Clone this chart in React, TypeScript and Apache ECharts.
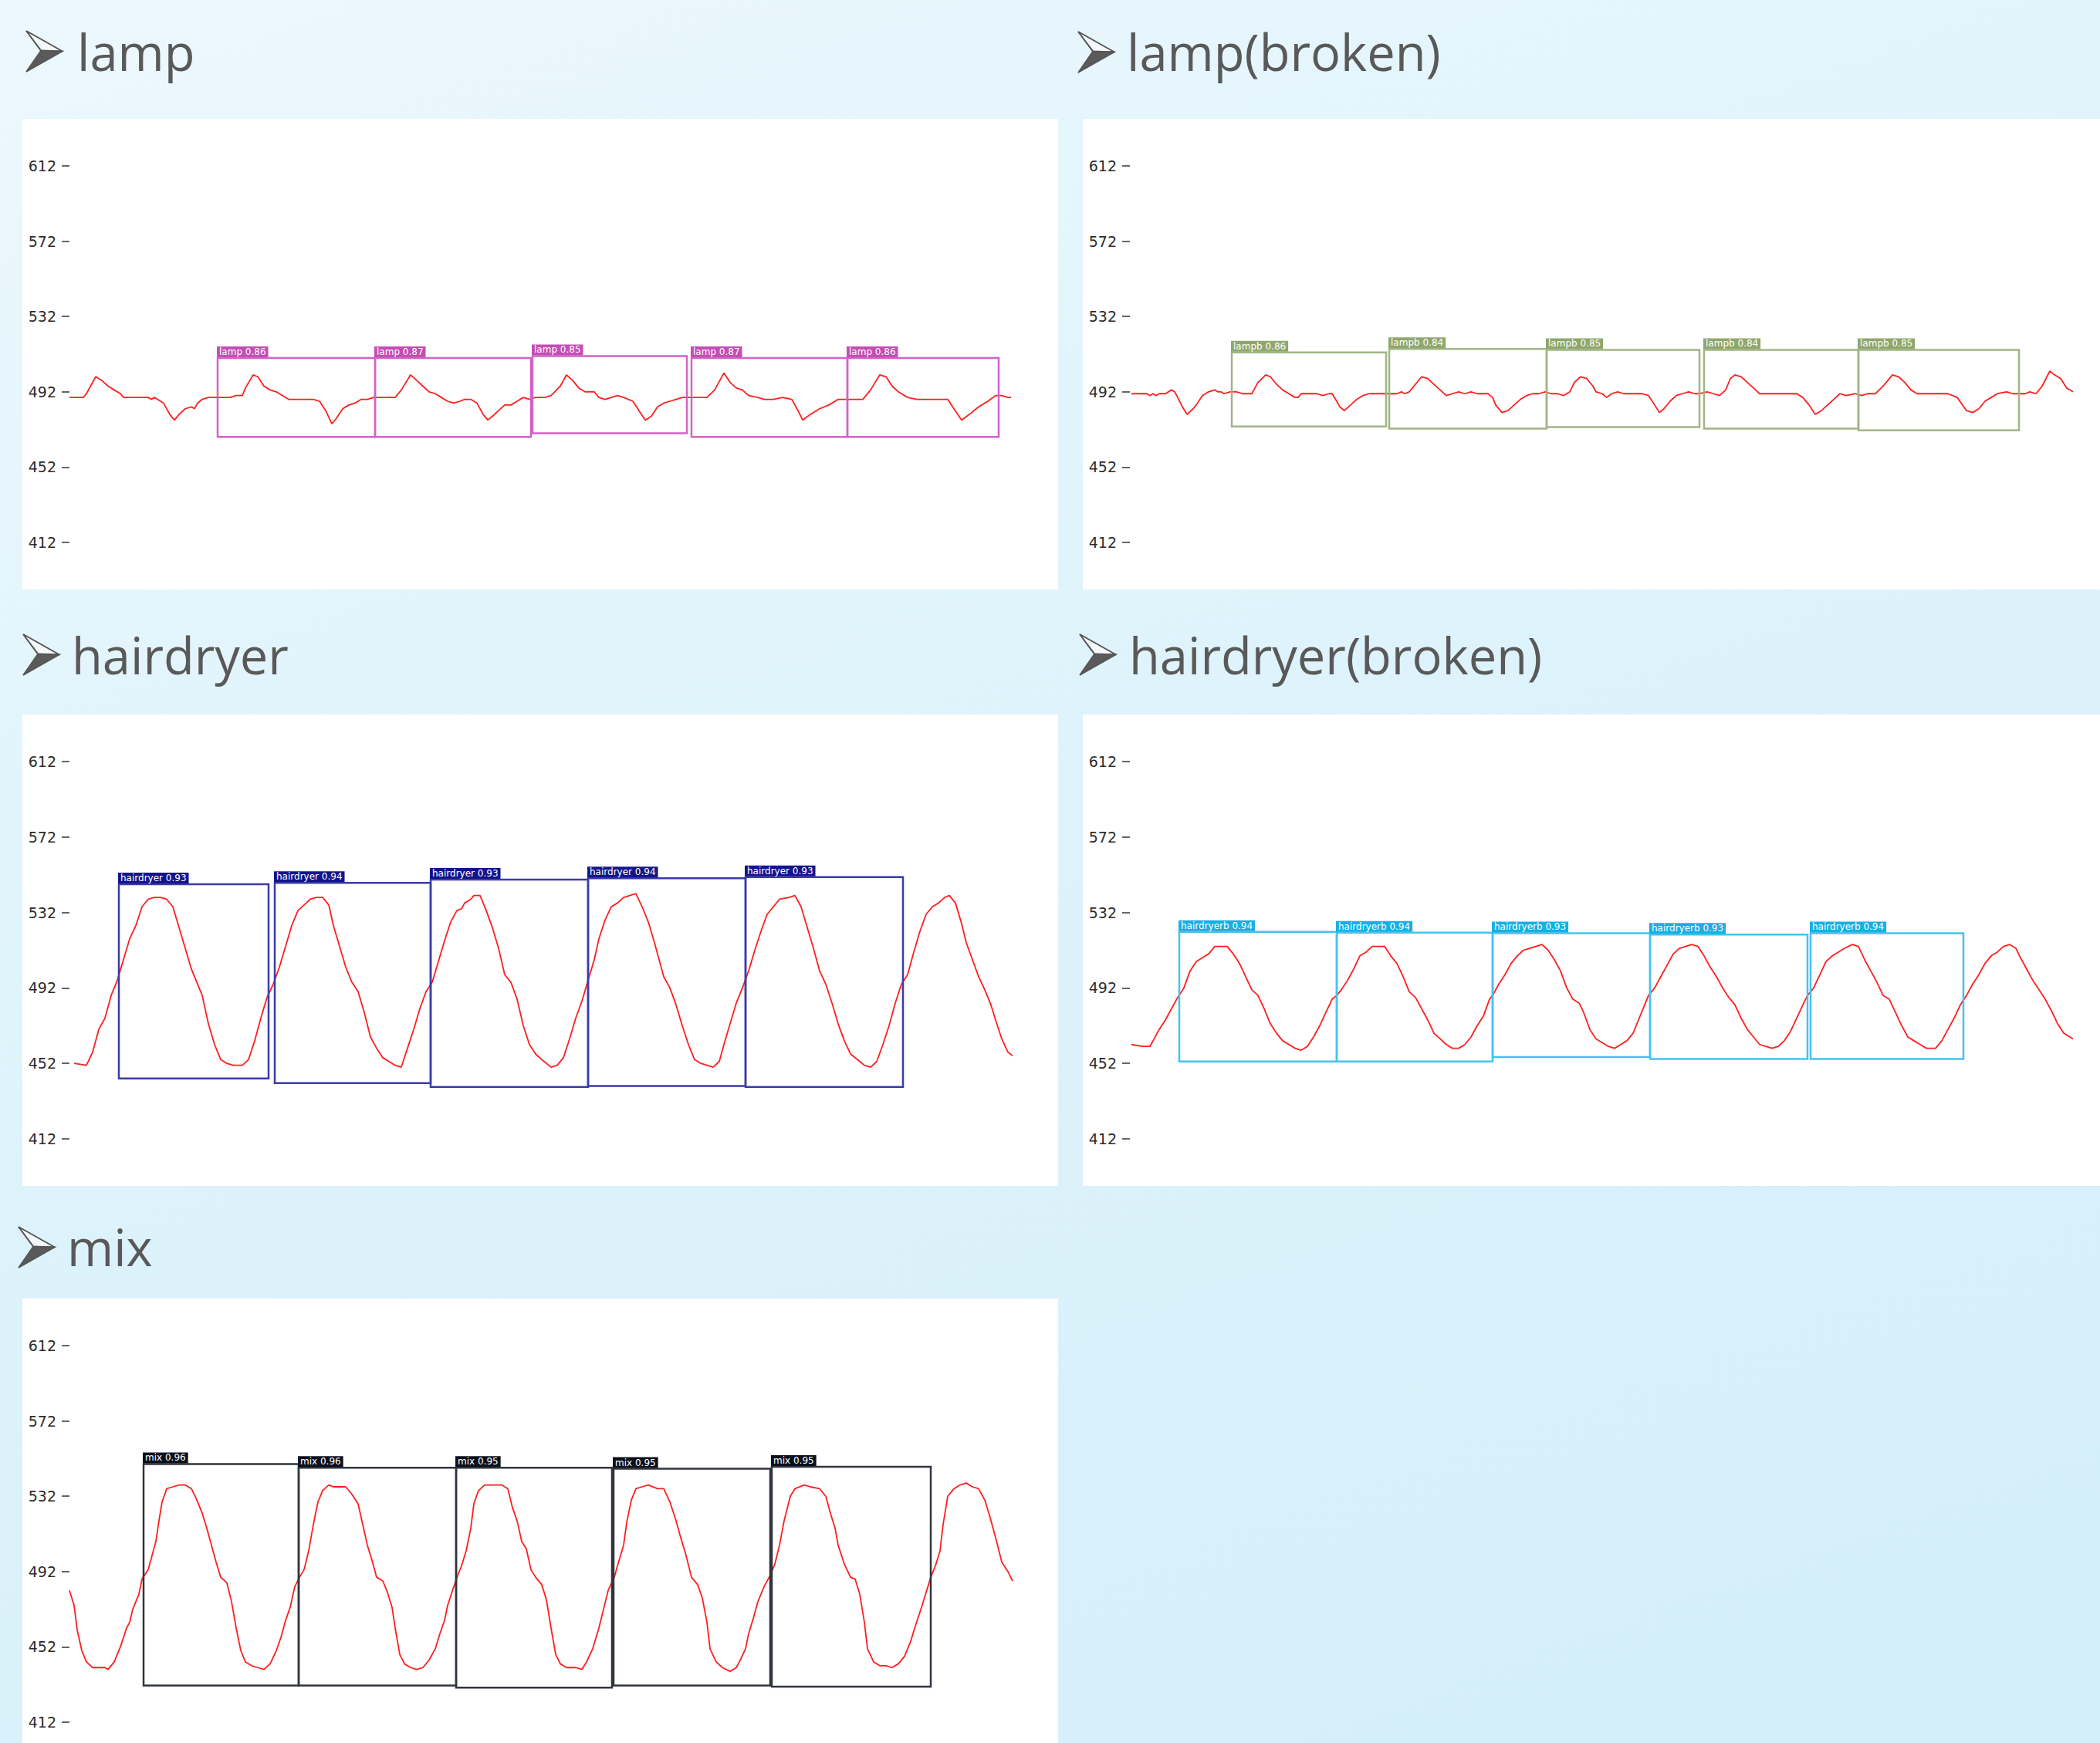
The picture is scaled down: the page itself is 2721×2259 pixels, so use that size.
import React, { useEffect, useRef } from "react";
import * as echarts from "echarts";

// ---------- data ----------
const yTicks = [412, 452, 492, 532, 572, 612];
const sampleMax = 611;

const lampSignal: [number, number][] = [
  [0,489],[9,489],[11,491],[17,500],[21,498],[25,495],[29,493],[33,491],[35,489],[51,489],[53,488],[55,489],[57,488],[61,486],[65,480],[68,477],[71,480],[75,483],[79,484],[81,483],[83,486],[86,488],[90,489],
  [96,489],[104,489],[108,490],[112,490],[114,494],[119,501],[122,500],[126,495],[130,493],[134,492],[138,490],[142,488],[158,488],[162,487],[166,482],[170,475],[173,478],[177,483],[181,485],[185,486],[189,488],[193,488],[197,489],
  [211,489],[215,493],[221,501],[225,498],[229,495],[233,492],[237,491],[241,489],[245,487],[249,486],[253,487],[256,488],[260,488],[264,486],[268,480],[271,477],[274,479],[278,482],[282,485],[286,485],[290,487],[294,489],[298,488],
  [302,489],[308,489],[312,490],[318,495],[322,501],[326,498],[330,494],[334,492],[340,492],[343,489],[347,488],[351,489],[355,490],[359,489],[365,487],[369,482],[373,477],[377,479],[381,484],[385,486],[389,487],[393,488],[397,489],[401,489],
  [413,489],[418,493],[424,502],[428,497],[432,494],[436,493],[440,490],[446,489],[450,488],[456,488],[462,489],[468,488],[472,482],[475,477],[480,480],[486,483],[492,485],[498,488],[504,488],
  [514,488],[519,493],[525,501],[529,500],[533,495],[537,492],[543,489],[549,488],[569,488],[573,483],[578,477],[583,480],[589,484],[595,487],[600,490],[604,490],[608,489],[610,489],
];

const lampBrokenSignal: [number, number][] = [
  [1,491],[11,491],[13,490],[15,491],[17,490],[19,491],[23,491],[27,493],[29,492],[31,489],[34,484],[37,480],[41,483],[43,485],[47,490],[51,492],[55,493],[57,492],[59,492],[61,491],[65,492],[67,492],
  [69,492],[73,491],[79,491],[83,497],[88,501],[91,500],[95,496],[99,493],[103,491],[107,489],[109,489],[111,491],[121,491],[125,490],[129,491],[131,491],[134,487],[136,484],[139,482],[143,485],[147,488],[151,490],[155,491],[159,491],[161,491],[165,491],
  [169,491],[173,491],[176,492],[178,491],[181,492],[184,495],[189,500],[193,499],[197,496],[201,493],[205,490],[209,491],[213,492],[217,491],[221,492],[225,491],[232,491],[235,489],[237,485],[241,481],[245,482],[249,485],[253,488],[257,490],[261,491],[265,491],[269,492],
  [273,491],[277,491],[281,490],[285,492],[288,497],[292,500],[296,499],[300,495],[302,492],[306,491],[309,489],[312,491],[316,492],[320,491],[332,491],[336,490],[340,485],[343,481],[346,483],[350,487],[354,490],[358,491],[362,492],[366,491],[369,491],
  [374,492],[378,491],[382,490],[386,493],[389,499],[392,501],[396,500],[400,497],[404,494],[408,491],[416,491],[424,491],[428,491],[432,491],[436,489],[440,485],[444,480],[448,482],[452,485],[456,488],[460,491],[464,490],[470,491],
  [474,490],[478,491],[483,491],[488,495],[494,501],[498,500],[502,497],[506,493],[510,491],[516,491],[524,491],[530,491],[536,489],[542,482],[546,481],[550,483],[554,487],[558,489],[562,491],[568,492],[572,491],[576,491],
  [580,491],[583,492],[587,491],[591,495],[596,503],[599,501],[603,499],[607,494],[611,492],
];

const hairdryerSignal: [number, number][] = [
  [3,452],[11,451],[15,458],[19,470],[23,476],[27,488],[31,496],[35,507],[39,518],[43,525],[47,535],[51,539],[55,540],[59,540],[63,539],[67,535],[71,524],[75,513],[79,502],[82,496],[86,488],[90,473],[94,462],[98,454],[102,452],[106,451],[112,451],[116,454],[120,464],[124,476],[128,487],[132,494],
  [136,503],[140,514],[144,525],[148,533],[152,536],[156,539],[160,540],[164,540],[168,536],[171,525],[175,514],[179,503],[183,495],[187,490],[191,479],[195,466],[199,460],[203,455],[207,453],[211,451],[215,450],[219,460],[223,470],[227,481],[231,490],[235,495],
  [239,506],[243,517],[247,527],[251,533],[254,534],[256,537],[260,539],[262,541],[266,541],[270,533],[274,524],[278,513],[282,499],[286,495],[290,486],[294,472],[298,462],[302,457],[306,454],[312,450],[316,451],[320,455],[324,465],[328,476],[332,485],[336,496],
  [340,507],[343,518],[347,528],[351,535],[355,537],[359,540],[363,541],[367,542],[371,535],[375,527],[379,516],[385,498],[389,492],[393,483],[397,472],[401,462],[405,454],[409,452],[413,451],[417,450],[421,453],[424,462],[428,473],[432,484],[436,492],[440,501],
  [444,512],[448,522],[452,531],[456,535],[460,539],[466,540],[470,541],[474,535],[478,524],[482,513],[486,501],[490,494],[494,484],[498,473],[502,464],[506,457],[512,453],[515,451],[519,450],[523,453],[527,462],[531,472],[535,484],[539,494],
  [543,499],[547,511],[551,522],[555,531],[559,535],[563,537],[567,540],[570,541],[574,537],[578,526],[581,516],[585,507],[589,498],[593,491],[597,483],[600,475],[604,465],[608,458],[611,456],
];

const hairdryerBrokenSignal: [number, number][] = [
  [1,462],[8,461],[13,461],[15,464],[19,470],[23,475],[27,481],[31,487],[35,492],[39,501],[43,506],[47,508],[51,510],[55,514],[63,514],[67,510],[71,505],[75,498],[79,491],[83,488],[87,481],[91,473],[95,468],[99,464],[103,462],[107,460],[111,459],[115,461],[119,466],[123,472],[127,479],[131,486],[134,488],
  [137,491],[141,496],[145,502],[149,509],[153,511],[157,514],[161,514],[165,514],[169,509],[173,505],[177,498],[181,490],[185,487],[189,481],[193,475],[197,468],[201,465],[205,462],[209,460],[213,460],[217,462],[221,466],[225,472],[229,477],[233,486],[235,488],
  [239,494],[243,499],[247,505],[251,509],[255,512],[259,513],[263,514],[267,515],[271,512],[275,507],[279,501],[283,492],[287,486],[291,484],[294,479],[298,470],[302,465],[306,463],[310,461],[314,460],[318,462],[322,464],[326,468],[330,476],[334,484],[336,488],
  [340,492],[344,498],[348,504],[352,510],[356,513],[360,514],[364,515],[368,514],[372,509],[376,503],[380,498],[384,492],[388,487],[392,483],[396,476],[400,470],[404,466],[408,462],[412,461],[416,460],[420,461],[424,464],[428,469],[432,476],[436,483],[439,488],
  [443,492],[447,499],[451,506],[455,509],[459,511],[463,513],[468,515],[472,514],[476,507],[480,501],[484,495],[488,488],[492,486],[496,479],[500,472],[504,466],[508,464],[512,462],[516,460],[522,460],[526,464],[530,470],[534,476],[538,483],
  [542,488],[546,494],[550,499],[554,505],[558,509],[562,511],[566,514],[570,515],[574,513],[577,508],[581,502],[585,496],[589,491],[593,486],[597,480],[601,473],[605,468],[609,466],[611,465],
];

const mixSignal: [number, number][] = [
  [0,482],[3,474],[5,461],[8,450],[11,444],[15,441],[19,441],[23,441],[25,440],[29,444],[33,452],[37,462],[39,465],[41,472],[45,480],[47,488],[51,493],[54,502],[56,508],[58,519],[60,529],[63,536],[67,537],[71,538],[75,538],[79,536],[82,531],[86,523],[89,515],[92,506],[95,497],[98,489],[102,486],[105,476],[108,462],[111,450],[114,444],[118,442],[122,441],[126,440],[130,443],[134,450],[137,457],[140,466],[143,473],[146,484],[149,489],
  [152,493],[155,503],[158,517],[161,529],[164,535],[168,538],[171,537],[179,537],[183,533],[187,528],[190,517],[193,506],[196,498],[199,489],[203,487],[206,481],[209,473],[211,462],[214,448],[217,443],[221,441],[225,440],[229,441],[233,445],[237,451],[240,459],[243,466],[245,474],[249,484],[252,491],
  [254,495],[257,503],[260,515],[262,528],[265,535],[269,538],[274,538],[280,538],[284,536],[287,526],[290,519],[293,508],[296,504],[299,493],[302,489],[306,485],[309,477],[312,462],[315,448],[318,443],[322,441],[328,441],[332,440],[335,444],[339,451],[343,462],[346,472],[349,482],[353,489],
  [355,495],[359,506],[361,518],[364,530],[367,536],[371,537],[375,538],[381,536],[385,536],[389,529],[393,519],[396,510],[399,502],[403,489],[407,485],[410,478],[413,465],[415,451],[419,444],[423,441],[428,439],[432,441],[434,444],[438,451],[440,459],[443,467],[446,476],[450,484],[454,490],
  [457,496],[460,506],[463,519],[467,532],[470,536],[476,538],[480,537],[486,536],[490,532],[493,523],[496,515],[498,506],[502,496],[506,489],[509,488],[512,480],[515,465],[517,451],[521,444],[525,442],[529,442],[533,441],[537,443],[541,447],[545,455],[548,463],[552,473],[555,481],[558,489],
  [561,495],[564,503],[566,517],[569,532],[573,536],[577,538],[581,539],[585,537],[589,536],[593,530],[596,522],[599,513],[601,507],[604,497],[608,492],[611,487],
];

// detection boxes: [startSample, endSample, bottomValue, topValue]
const lampBoxes: number[][] = [[96,198,468,510],[198,299,468,510],[300,400,470,511],[403,504,468,510],[504,602,468,510]];
const lampScores = ["0.86", "0.87", "0.85", "0.87", "0.86"];
const lampBrokenBoxes: number[][] = [[66,166,473.6,512.9],[168,270,472.5,514.8],[270,369,473.3,514.3],[372,472,472.5,514.3],[472,576,471.5,514.3]];
const lampBrokenScores = ["0.86", "0.84", "0.85", "0.84", "0.85"];
const hairdryerBoxes: number[][] = [[32,129,444,547],[133,234,441.5,547.7],[234,336,439.5,549.4],[336,438,440,550.1],[438,540,439.5,550.8]];
const hairdryerScores = ["0.93", "0.94", "0.93", "0.94", "0.93"];
const hairdryerBrokenBoxes: number[][] = [[32,134,453,521.7],[134,235,453,521.3],[235,337,455.4,521],[337,439,454.3,520.3],[441,540,454.3,521]];
const hairdryerBrokenScores = ["0.94", "0.94", "0.93", "0.93", "0.94"];
const mixBoxes: number[][] = [[48,148.5,431.5,549.1],[148.5,250.5,431.5,547.1],[250.5,351.5,430.3,547.1],[352.5,454,431.5,546.6],[455,558,430.9,547.7]];
const mixScores = ["0.96", "0.96", "0.95", "0.95", "0.95"];

const titles = ["lamp", "lamp(broken)", "hairdryer", "hairdryer(broken)", "mix"];
const classNames = ["lamp", "lampb", "hairdryer", "hairdryerb", "mix"];

// ---------- layout / style ----------
const W = 2721;
const H = 2259;

const panelRects = [
  { x: 29, y: 154, w: 1342, h: 610 },
  { x: 1403, y: 154, w: 1318, h: 610 },
  { x: 29, y: 926, w: 1342, h: 611 },
  { x: 1403, y: 926, w: 1318, h: 611 },
  { x: 29, y: 1683, w: 1342, h: 576 },
];
const gridRects = [
  { left: 90, top: 215, width: 1222, height: 488 },
  { left: 1464, top: 215, width: 1222, height: 488 },
  { left: 90, top: 987, width: 1222, height: 489 },
  { left: 1464, top: 987, width: 1222, height: 489 },
  { left: 90, top: 1744, width: 1222, height: 488 },
];
const titlePos = [
  { ax: 34, ay: 40, tx: 100, ty: 93 },
  { ax: 1397, ay: 41, tx: 1460, ty: 93 },
  { ax: 30, ay: 822, tx: 93, ty: 875 },
  { ax: 1399, ay: 822, tx: 1463, ty: 875 },
  { ax: 24, ay: 1590, tx: 87, ty: 1642 },
];
const boxStroke = ["#d263c8", "#a0b585", "#3b3ba9", "#45c2ee", "#30343e"];
const labelFill = ["#c54db4", "#8fa76c", "#14148a", "#19afe3", "#0b0f1b"];

function arrow(ax: number, ay: number) {
  const w = 47;
  const h = 53;
  const nx = ax + 19;
  const ny = ay + h * 0.48;
  return [
    {
      type: "polygon",
      z: 5,
      shape: { points: [[ax, ay], [ax + w, ay + h / 2], [nx, ny]] },
      style: { fill: "#f4f8fa", stroke: "#555555", lineWidth: 2 },
    },
    {
      type: "polygon",
      z: 5,
      shape: { points: [[nx, ny], [ax + w, ay + h / 2], [ax, ay + h]] },
      style: { fill: "#5a5a5a", stroke: "#555555", lineWidth: 1.5 },
    },
  ];
}

export default function App() {
  const ref = useRef<HTMLDivElement>(null);

  useEffect(() => {
    document.body.style.margin = "0";
    document.body.style.overflow = "hidden";
    if (!ref.current) return;
    const chart = echarts.init(ref.current, null, { renderer: "svg" });

    const signals = [lampSignal, lampBrokenSignal, hairdryerSignal, hairdryerBrokenSignal, mixSignal];
    const boxes = [lampBoxes, lampBrokenBoxes, hairdryerBoxes, hairdryerBrokenBoxes, mixBoxes];
    const scores = [lampScores, lampBrokenScores, hairdryerScores, hairdryerBrokenScores, mixScores];

    const graphic: any[] = [];
    panelRects.forEach((p) => {
      graphic.push({
        type: "rect",
        z: -10,
        shape: { x: p.x, y: p.y, width: p.w, height: p.h },
        style: { fill: "#ffffff" },
      });
    });
    titlePos.forEach((t, i) => {
      graphic.push(...arrow(t.ax, t.ay));
      graphic.push({
        type: "text",
        z: 5,
        x: t.tx,
        y: t.ty - 26,
        style: {
          text: titles[i],
          fill: "#595959",
          fontSize: 65,
          fontFamily: '"Open Sans", "Noto Sans", sans-serif',
          verticalAlign: "middle",
          align: "left",
        },
      });
    });

    const grid = gridRects.map((g) => ({ ...g, containLabel: false }));
    const xAxis = gridRects.map((_, i) => ({
      type: "value",
      gridIndex: i,
      min: 0,
      max: sampleMax,
      show: false,
    }));
    const yAxis = gridRects.map((_, i) => ({
      type: "value",
      gridIndex: i,
      min: yTicks[0],
      max: yTicks[yTicks.length - 1],
      interval: yTicks[1] - yTicks[0],
      axisLine: { show: false },
      axisTick: { show: true, length: 10, lineStyle: { color: "#333333", width: 1.5 } },
      axisLabel: {
        show: true,
        margin: 17,
        fontSize: 19,
        color: "#2b2b2b",
        fontFamily: '"DejaVu Sans", sans-serif',
      },
      splitLine: { show: false },
    }));

    const series: any[] = [];
    signals.forEach((sig, i) => {
      series.push({
        type: "line",
        xAxisIndex: i,
        yAxisIndex: i,
        data: sig,
        showSymbol: false,
        symbol: "none",
        z: 3,
        lineStyle: { color: "#ff1e1e", width: 1.8 },
        emphasis: { disabled: true },
      });
      const bx = boxes[i];
      const sc = scores[i];
      const cls = classNames[i];
      series.push({
        type: "custom",
        xAxisIndex: i,
        yAxisIndex: i,
        z: 4,
        clip: false,
        encode: { x: [0, 1], y: [2, 3] },
        data: bx,
        renderItem: (params: any, api: any) => {
          const p0 = api.coord([api.value(0), api.value(3)]);
          const p1 = api.coord([api.value(1), api.value(2)]);
          return {
            type: "group",
            children: [
              {
                type: "rect",
                shape: { x: p0[0], y: p0[1], width: p1[0] - p0[0], height: p1[1] - p0[1] },
                style: { fill: "none", stroke: boxStroke[i], lineWidth: 2.5 },
              },
              {
                type: "text",
                x: p0[0] - 1,
                y: p0[1] - 1,
                style: {
                  text: cls + " " + sc[params.dataIndex],
                  fill: "#ffffff",
                  fontSize: 12,
                  lineHeight: 12,
                  fontFamily: '"DejaVu Sans", sans-serif',
                  backgroundColor: labelFill[i],
                  padding: [1, 3, 1, 3],
                  align: "left",
                  verticalAlign: "bottom",
                },
              },
            ],
          };
        },
      });
    });

    chart.setOption({
      animation: false,
      backgroundColor: "transparent",
      grid,
      xAxis,
      yAxis,
      series,
      graphic,
    });

    return () => {
      chart.dispose();
    };
  }, []);

  return (
    <div
      ref={ref}
      style={{
        position: "absolute",
        left: 0,
        top: 0,
        width: W,
        height: H,
        background: "linear-gradient(160deg, #ecf8fd 0%, #def3fb 45%, #d3eef9 100%)",
      }}
    />
  );
}
